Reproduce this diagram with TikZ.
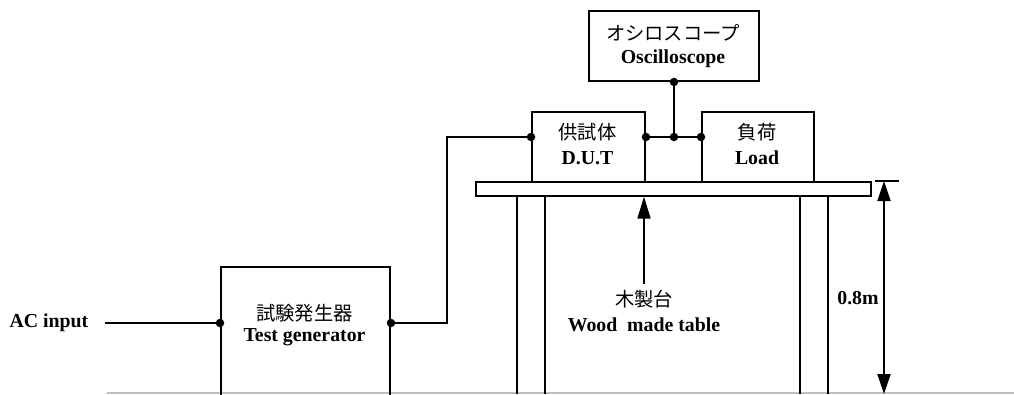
\documentclass[tikz,border=0pt]{standalone}
\usepackage{fontspec}
\setmainfont{Liberation Serif}
\newfontfamily\jp{Noto Sans CJK JP}
\usetikzlibrary{arrows.meta,calc}
\definecolor{groundgray}{HTML}{BFBFBF}
\tikzset{
  box/.style={draw, line width=2pt, inner sep=0pt, anchor=north west},
  wire/.style={line width=2pt},
  tbl/.style={line width=1.7pt},
  dot/.style={circle, fill=black, inner sep=0pt, minimum size=8.5pt},
  jptxt/.style={font=\jp\fontsize{19.3}{21}\selectfont, inner sep=0pt},
  entxt/.style={font=\bfseries\fontsize{19.8}{22}\selectfont, inner sep=0pt},
}
\begin{document}
\begin{tikzpicture}[x=1pt,y=-1pt]
\useasboundingbox (0,0) rectangle (1014,394);
% ground
\draw[groundgray, line width=1.5pt] (107,393) -- (1014,393);
% boxes
\node[box, minimum width=170pt, minimum height=70pt] (osc) at (588,10) {};
\node[box, minimum width=113pt, minimum height=70pt] (dut) at (531,111) {};
\node[box, minimum width=112pt, minimum height=70pt] (load) at (701,111) {};
\node[box, minimum width=169pt, minimum height=140pt] (tg) at (220,266) {};
% texts
\node[jptxt] (oscjp) at (673,33) {オシロスコープ};
\node[entxt] (oscen) at (673,59) {Oscilloscope};
\node[jptxt] (dutjp) at (587.5,132) {供試体};
\node[entxt] (duten) at (587.5,158) {D.U.T};
\node[jptxt] (loadjp) at (757,132) {負荷};
\node[entxt] (loaden) at (757,158) {Load};
\node[jptxt] (tgjp) at (304.5,313) {試験発生器};
\node[entxt] (tgen) at (304.5,337) {Test generator};
\node[entxt] (ac) at (49,323) {AC input};
% table
\node[draw, tbl, inner sep=0pt, anchor=north west, minimum width=395pt, minimum height=14pt] (top) at (475,181) {};
\coordinate (l1) at (517,394); \coordinate (l2) at (545,394);
\coordinate (l3) at (800,394); \coordinate (l4) at (828,394);
\draw[tbl] (l1) -- (l1 |- top.south);
\draw[tbl] (l2) -- (l2 |- top.south);
\draw[tbl] (l3) -- (l3 |- top.south);
\draw[tbl] (l4) -- (l4 |- top.south);
\node[jptxt] (tbljp) at (644,299) {木製台};
\node[entxt] (tblen) at (644,325) {Wood\ \ made table};
\coordinate (tail) at (644,284);
\draw[line width=1.8pt, -{Triangle[length=22pt,width=13pt]}] (tail) -- (tail |- top.south);
% dimension
\coordinate (tick1) at (875,181); \coordinate (tick2) at (899,181);
\draw[line width=1.4pt] (tick1) -- (tick2);
\coordinate (dimtop) at (884,181); \coordinate (dimbot) at (884,394);
\draw[line width=2pt, {Triangle[length=20pt,width=13pt]}-{Triangle[length=20pt,width=13pt]}] (dimtop) -- (dimbot);
\node[entxt] (dim) at (858,298) {0.8m};
% wires
\coordinate (row) at (0,137);
\coordinate (acend) at ($(ac.east)+(16,0)$);
\coordinate (tgin) at (tg.north west |- ac);
\coordinate (tgout) at (tg.north east |- ac);
\coordinate (dutin) at (dut.north west |- row);
\coordinate (dutout) at (dut.north east |- row);
\coordinate (loadin) at (load.north west |- row);
\coordinate (oscb) at (osc.south);
\coordinate (junc) at (oscb |- row);
\draw[wire] (acend) -- (tgin);
\draw[wire] (tgout) -- (447,323) -- (447,137) -- (dutin);
\draw[wire] (dutout) -- (loadin);
\draw[wire] (oscb) -- (junc);
\foreach \p in {tgin,tgout,dutin,dutout,loadin,oscb,junc}
  \node[dot] at (\p) {};
\end{tikzpicture}
\end{document}
